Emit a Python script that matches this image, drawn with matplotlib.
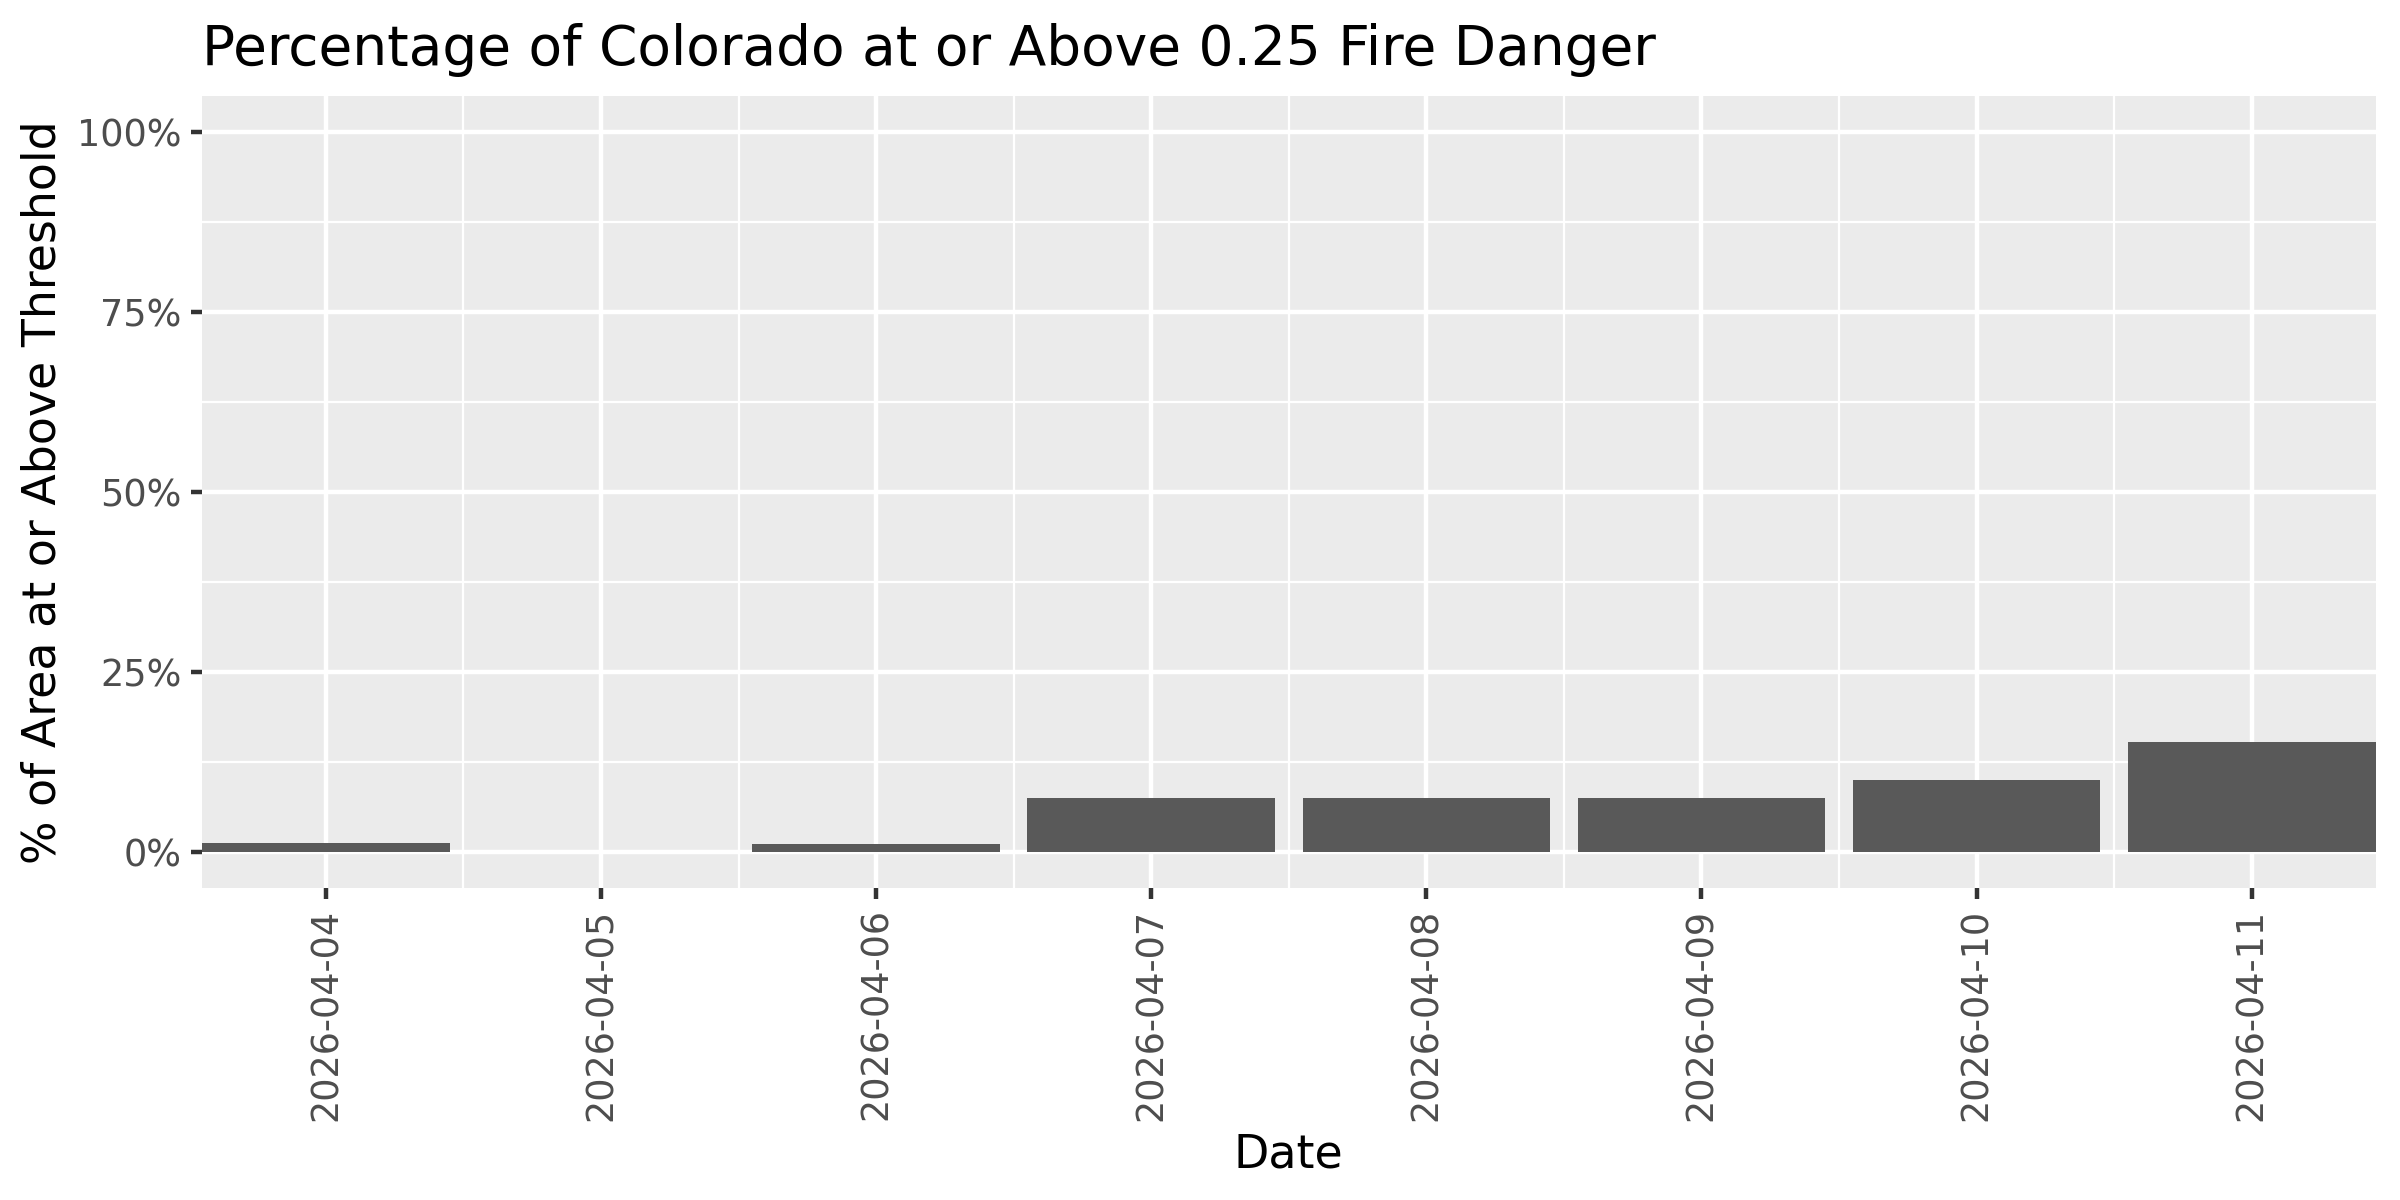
import matplotlib
matplotlib.use("Agg")
import matplotlib.pyplot as plt
import numpy as np
from matplotlib.ticker import FuncFormatter

# ---- data ----
dates = ["2026-04-04", "2026-04-05", "2026-04-06", "2026-04-07",
         "2026-04-08", "2026-04-09", "2026-04-10", "2026-04-11"]
pct_area = [1.25, 0.0, 1.1, 7.45, 7.45, 7.45, 9.95, 15.3]
y_ticks = [0, 25, 50, 75, 100]

plt.rcParams["font.family"] = ["DejaVu Sans"]

fig = plt.figure(figsize=(8, 4), dpi=300)
ax = fig.add_axes([0.0842, 0.2602, 0.9898 - 0.0842, 0.9196 - 0.2602])

x = np.arange(len(dates))
ax.set_facecolor("#EBEBEB")
ax.bar(x, pct_area, width=0.9, color="#595959", zorder=3)

# limits: no x expansion (date scale), 5% y expansion
ax.set_xlim(-0.45, len(dates) - 1 + 0.45)
ax.set_ylim(-5, 105)

ax.set_xticks(x)
ax.set_xticklabels(dates, rotation=90)
ax.set_xticks(x[:-1] + 0.5, minor=True)
ax.set_yticks(y_ticks)
ax.set_yticks([12.5, 37.5, 62.5, 87.5], minor=True)
ax.yaxis.set_major_formatter(FuncFormatter(lambda v, _: f"{v:.0f}%"))

ax.grid(which="major", color="white", linewidth=1.07, zorder=1)
ax.grid(which="minor", color="white", linewidth=0.53, zorder=1)
ax.set_axisbelow(True)
for s in ax.spines.values():
    s.set_visible(False)

ax.tick_params(which="major", length=2.75, width=1.07, color="#333333",
               labelsize=8.8, labelcolor="#4D4D4D", pad=2.2)
ax.tick_params(which="minor", length=0)

ax.set_xlabel("Date", fontsize=11, labelpad=2.75)
ax.set_ylabel("% of Area at or Above Threshold", fontsize=11, labelpad=2.75)
ax.set_title("Percentage of Colorado at or Above 0.25 Fire Danger",
             loc="left", fontsize=13.2, pad=7.5)

fig.savefig("out.png", dpi=300)
